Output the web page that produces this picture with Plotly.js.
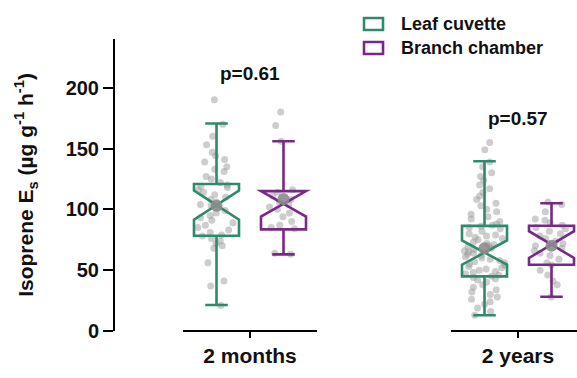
<!DOCTYPE html>
<html><head><meta charset="utf-8">
<script src="https://cdn.plot.ly/plotly-3.0.1.min.js"></script>
<style>html,body{margin:0;padding:0;background:#fff}#chart{width:577px;height:378px}</style>
</head><body><div id="chart"></div>
<script>
// ---- data ----
const categories = ['2 months', '2 years'];
const seriesNames = ['Leaf cuvette', 'Branch chamber'];
const pLabels = ['p=0.61', 'p=0.57'];
const pLabelY = [212, 175];

// box statistics (per category)
const leafQ1 = [78.3, 44.9];
const leafMedian = [103.5, 64.5];
const leafQ3 = [120.8, 86.4];
const leafLower = [21.4, 13.0];
const leafUpper = [170.5, 139.5];
const leafNotch = [12, 10];
const leafMean = [103, 68];

const branchQ1 = [83.5, 54.5];
const branchMedian = [104.5, 71];
const branchQ3 = [115, 86.5];
const branchLower = [63, 28.2];
const branchUpper = [156, 105];
const branchNotch = [10.5, 11];
const branchMean = [108.4, 70];

// individual observations (jittered grey points)
const leafPoints2m = [190, 170, 160, 153, 147, 144, 141, 139, 135, 133, 131, 127, 125, 122, 120, 119, 118, 116, 114, 112, 110, 108, 106, 104, 103, 101, 99, 97, 95, 93, 91, 89, 87, 85, 83, 81, 79, 78, 76, 74, 72, 70, 68, 56, 41, 37, 21];
const leafPoints2y = [155, 149, 139, 135, 130, 127, 124, 120, 117, 114, 111, 108, 105, 103, 100, 98, 96, 94, 92, 90, 88, 87, 86, 85, 84, 82, 80, 79, 78, 77, 76, 75, 73, 72, 71, 70, 69, 68, 67, 66, 65, 64, 63, 62, 61, 60, 59, 58, 57, 56, 55, 54, 53, 52, 51, 50, 49, 48, 47, 46, 45, 44, 43, 42, 40, 38, 36, 34, 32, 30, 28, 26, 24, 22, 19, 16, 13];
const branchPoints2m = [180, 169, 156, 116, 114, 111, 108, 106, 104, 102, 100, 97, 94, 90, 87, 85, 84, 64, 63];
const branchPoints2y = [106, 104, 98, 92, 91, 89, 87, 85, 84, 82, 80, 78, 76, 74, 72, 70, 68, 66, 64, 62, 59, 56, 54, 50, 46, 41, 38, 28];

// ---- styling ----
const GREEN = '#2e8a6e';
const PURPLE = '#772a85';
const COLORS = [GREEN, PURPLE];
const OFFSET = 0.125;
const BOXW = 0.168;
const FONT = 'Liberation Sans, Arial, Helvetica, sans-serif';

const leafPos = categories.map((c, i) => i - OFFSET);
const branchPos = categories.map((c, i) => i + OFFSET);

function pointsTrace(pos, arrs) {
  const x = [], y = [];
  arrs.forEach((a, i) => a.forEach(v => { x.push(pos[i]); y.push(v); }));
  return {
    type: 'box', x: x, y: y, width: BOXW,
    boxpoints: 'all', jitter: 0.9, pointpos: 0,
    line: {width: 0, color: 'rgba(0,0,0,0)'}, fillcolor: 'rgba(0,0,0,0)',
    marker: {color: 'rgba(155,155,155,0.5)', size: 7, line: {width: 0}},
    showlegend: false, hoverinfo: 'skip'
  };
}
function statBox(name, pos, q1, med, q3, lo, hi, ns, color) {
  return {
    type: 'box', name: name, x: pos, q1: q1, median: med, q3: q3,
    lowerfence: lo, upperfence: hi, notchspan: ns, notched: true, notchwidth: 0.5,
    boxpoints: false, width: BOXW, whiskerwidth: 0.5,
    line: {color: color, width: 2.6}, fillcolor: 'rgba(255,255,255,0)',
    showlegend: false
  };
}

const data = [
  pointsTrace(leafPos, [leafPoints2m, leafPoints2y]),
  pointsTrace(branchPos, [branchPoints2m, branchPoints2y]),
  statBox(seriesNames[0], leafPos, leafQ1, leafMedian, leafQ3, leafLower, leafUpper, leafNotch, GREEN),
  statBox(seriesNames[1], branchPos, branchQ1, branchMedian, branchQ3, branchLower, branchUpper, branchNotch, PURPLE),
  {type: 'scatter', mode: 'markers', x: leafPos.concat(branchPos), y: leafMean.concat(branchMean),
   marker: {color: 'rgba(140,140,140,0.9)', size: 12}, showlegend: false, hoverinfo: 'skip'}
];

// plot area geometry (pixels) used to place the hand-drawn legend
const PL = 115, PW = 462, PT = 39, PH = 292;
const px2x = p => (p - PL) / PW;
const py2y = p => (PT + PH - p) / PH;

const shapes = categories.map((c, i) => ({
  type: 'line', xref: 'x', yref: 'paper', x0: i - 0.25, x1: i + 0.25, y0: 0, y1: 0,
  line: {color: '#000', width: 2}
}));
// legend keys
seriesNames.forEach((s, i) => {
  const cy = 24 + i * 24;
  shapes.push({type: 'rect', xref: 'paper', yref: 'paper',
    x0: px2x(364), x1: px2x(383), y0: py2y(cy + 6), y1: py2y(cy - 6),
    line: {color: COLORS[i], width: 2.6}, fillcolor: '#fff'});
});

const annotations = categories.map((c, i) => ({
  xref: 'x', yref: 'y', x: i, y: pLabelY[i], text: pLabels[i], showarrow: false,
  font: {family: FONT, size: 19, color: '#111', weight: 'bold'}
}));
seriesNames.forEach((s, i) => {
  annotations.push({xref: 'paper', yref: 'paper', x: px2x(399), y: py2y(24 + i * 24),
    xanchor: 'left', yanchor: 'middle', text: s, showarrow: false,
    font: {family: FONT, size: 18, color: '#111', weight: 'bold'}});
});

const layout = {
  width: 577, height: 378,
  margin: {l: PL, r: 0, t: PT, b: 378 - PT - PH},
  paper_bgcolor: '#fff', plot_bgcolor: '#fff',
  boxmode: 'overlay',
  showlegend: false,
  xaxis: {
    range: [-0.5037, 1.2201], tickvals: categories.map((c, i) => i), ticktext: categories,
    showline: false, showgrid: false, zeroline: false,
    ticks: 'outside', ticklen: 6, tickwidth: 2, tickcolor: '#000',
    tickfont: {family: FONT, size: 21, color: '#111', weight: 'bold'}
  },
  yaxis: {
    range: [0, 240], tickvals: [0, 50, 100, 150, 200],
    showline: true, linecolor: '#000', linewidth: 2, showgrid: false, zeroline: false,
    ticks: 'outside', ticklen: 10, tickwidth: 2, tickcolor: '#000',
    tickfont: {family: FONT, size: 20, color: '#111', weight: 'bold'},
    title: {text: 'Isoprene E<sub>s</sub> (µg g<sup>-1</sup> h<sup>-1</sup>)', standoff: 26,
            font: {family: FONT, size: 21, color: '#111', weight: 'bold'}}
  },
  shapes: shapes,
  annotations: annotations
};

Plotly.newPlot('chart', data, layout, {staticPlot: true, displayModeBar: false});
</script></body></html>
